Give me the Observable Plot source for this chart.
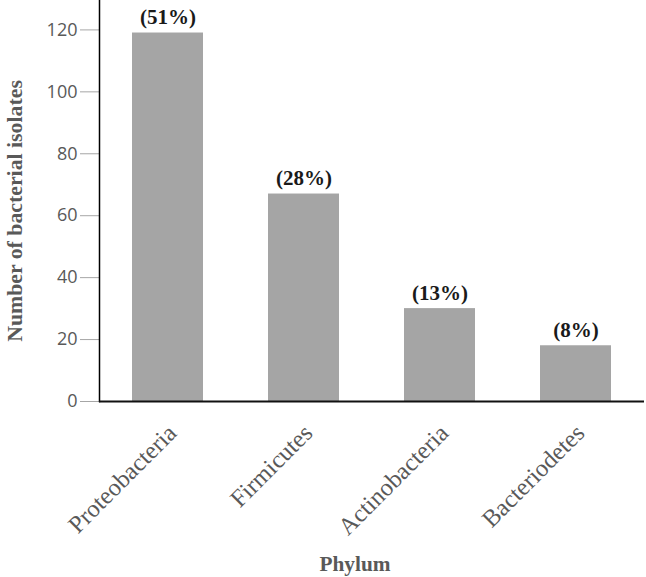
<!DOCTYPE html>
<html>
<head>
<meta charset="utf-8">
<script src="https://cdn.jsdelivr.net/npm/d3@7"></script>
<script src="https://cdn.jsdelivr.net/npm/@observablehq/plot@0.6"></script>
<style>
  html, body { margin: 0; padding: 0; background: #fff; }
  #chart svg { display: block; }
</style>
</head>
<body>
<div id="chart"></div>
<script>
const phyla = ["Proteobacteria", "Firmicutes", "Actinobacteria", "Bacteriodetes"];
const counts = [119, 67, 30, 18];
const percents = ["(51%)", "(28%)", "(13%)", "(8%)"];
const yTicks = [0, 20, 40, 60, 80, 100, 120];
const xTitle = "Phylum";
const yTitle = "Number of bacterial isolates";

const data = phyla.map((p, i) => ({phylum: p, count: counts[i], pct: percents[i]}));
const serif = "'Liberation Serif', 'Times New Roman', serif";
const gray = "#595959";

const chart = Plot.plot({
  width: 646,
  height: 577,
  marginLeft: 99,
  marginRight: 2,
  marginTop: 0,
  marginBottom: 176,
  style: {background: "#fff", overflow: "visible"},
  x: {domain: phyla, paddingInner: 0.478, paddingOuter: 0.239, axis: null},
  y: {domain: [0, 129.5], axis: null},
  marks: [
    Plot.barY(data, {x: "phylum", y: "count", fill: "#a5a5a5"}),
    Plot.axisY({ticks: yTicks, tickSize: 19, tickPadding: 3, stroke: "#a6a6a6",
      fill: gray, fontSize: 18, fontFamily: "'Open Sans', sans-serif", label: null}),
    Plot.frame({anchor: "left", stroke: "#000", strokeWidth: 1.5}),
    Plot.ruleY([0], {stroke: "#111", strokeWidth: 2.2}),
    Plot.text(data, {x: "phylum", y: "count", text: "pct", dy: -9, lineAnchor: "bottom",
      fontSize: 21, fontWeight: "bold", fontFamily: serif, fill: "#1a1a1a"}),
    Plot.text(data, {x: "phylum", text: "phylum", frameAnchor: "bottom", dx: 10, dy: 33,
      rotate: -45, textAnchor: "end", lineAnchor: "bottom",
      fontSize: 24.5, fontFamily: serif, fill: gray}),
    Plot.text([yTitle], {frameAnchor: "left", dx: -84, dy: 10, rotate: -90,
      textAnchor: "middle", lineAnchor: "middle",
      fontSize: 21.8, fontWeight: "bold", fontFamily: serif, fill: gray}),
    Plot.text([xTitle], {frameAnchor: "bottom", dx: -17, dy: 169, lineAnchor: "bottom",
      fontSize: 21.3, fontWeight: "bold", fontFamily: serif, fill: gray})
  ]
});
document.getElementById("chart").appendChild(chart);
</script>
</body>
</html>
